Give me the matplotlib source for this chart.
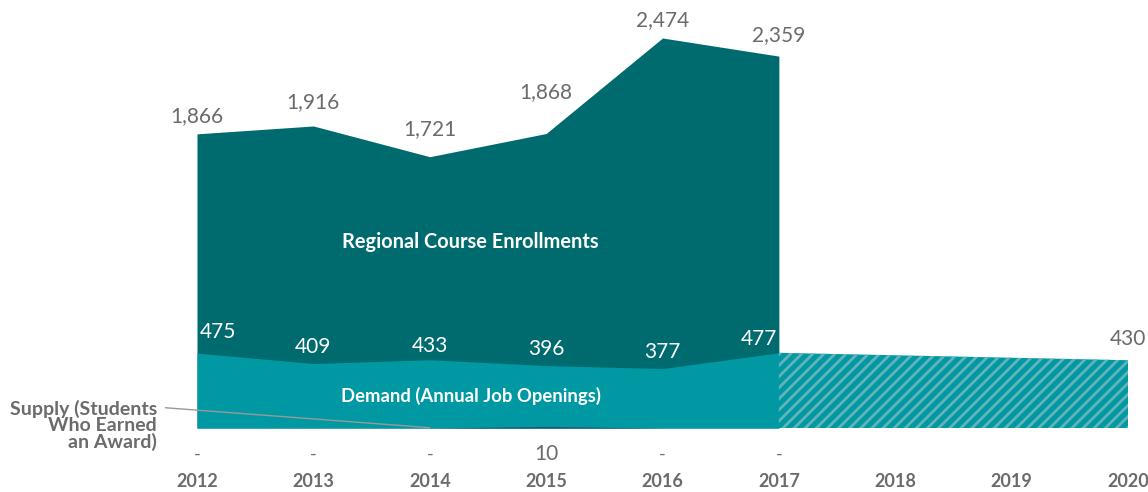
import matplotlib
matplotlib.use('Agg')
import matplotlib.pyplot as plt

years = [2012, 2013, 2014, 2015, 2016, 2017]
enrollments = [1866, 1916, 1721, 1868, 2474, 2359]
demand = [475, 409, 433, 396, 377, 477]
supply = [0, 0, 0, 10, 0, 0]
proj_years = [2017, 2020]
proj_demand = [477, 430]
tick_years = [2012, 2013, 2014, 2015, 2016, 2017, 2018, 2019, 2020]

# label lift above each point, in points
enroll_lift = [5.3, 10.3, 12.5, 22.5, 6, 8.2]
demand_lift = [8, 5, 3, 5, 5, 3]

DARK = '#006b6f'
TEAL = '#0098a3'
STRIPE = '#63b4b9'
NAVY = '#1d4e79'
GRAY = '#6b6b6b'

plt.rcParams['font.family'] = ['Lato', 'DejaVu Sans']
plt.rcParams['hatch.linewidth'] = 2.0

fig = plt.figure(figsize=(11.48, 4.92), dpi=100)
ax = fig.add_axes([197 / 1148, 64 / 492, 931 / 1148, 390 / 492])
ax.set_xlim(2012, 2020)
ax.set_ylim(0, 2474)
ax.axis('off')

ax.fill_between(years, 0, enrollments, color=DARK, linewidth=0)
ax.fill_between(years, 0, demand, color=TEAL, linewidth=0)
ax.fill_between(proj_years, 0, proj_demand, facecolor=TEAL, edgecolor=STRIPE,
                hatch='///', linewidth=0)
ax.fill_between(years, 0, supply, color=NAVY, linewidth=0)

# value labels
for x, v, dy in zip(years, enrollments, enroll_lift):
    ax.annotate(f'{v:,}', (x, v), xytext=(0, dy), textcoords='offset points',
                ha='center', va='bottom', fontsize=15, color=GRAY,
                annotation_clip=False)

for i, (x, v, dy) in enumerate(zip(years, demand, demand_lift)):
    ha = 'left' if i == 0 else ('right' if i == len(years) - 1 else 'center')
    dx = 2 if i == 0 else (-1 if i == len(years) - 1 else 0)
    ax.annotate(f'{v:,}', (x, v), xytext=(dx, dy), textcoords='offset points',
                ha=ha, va='bottom', fontsize=15, color='white',
                annotation_clip=False)

ax.annotate(f'{proj_demand[-1]:,}', (proj_years[-1], proj_demand[-1]),
            xytext=(0, 8), textcoords='offset points', ha='center',
            va='bottom', fontsize=15, color=GRAY, annotation_clip=False)

for x, v in zip(years, supply):
    ax.annotate(f'{v:,}' if v else '-', (x, 0), xytext=(0, -19),
                textcoords='offset points', ha='center', va='center',
                fontsize=15 if v else 13, color=GRAY, annotation_clip=False)

for x in tick_years:
    ax.annotate(str(x), (x, 0), xytext=(0, -38.5), textcoords='offset points',
                ha='center', va='center', fontsize=13, fontweight='bold',
                color=GRAY, annotation_clip=False)

# series names
ax.text(2014.35, 1178, 'Regional Course Enrollments', ha='center',
        va='center', fontsize=14.4, fontweight='bold', color='white')
ax.text(2014.35, 205, 'Demand (Annual Job Openings)', ha='center',
        va='center', fontsize=13.3, fontweight='bold', color='white')
ax.annotate('Supply (Students\nWho Earned\nan Award)', xy=(2014.0, 2),
            xytext=(157, 92), textcoords='figure pixels', ha='right',
            va='top', fontsize=14, fontweight='bold', color=GRAY,
            linespacing=0.92, annotation_clip=False,
            arrowprops=dict(arrowstyle='-', color='#999999', lw=1,
                            shrinkA=4, shrinkB=0,
                            relpos=(1.0, 0.86)))

fig.savefig('out.png', dpi=100)
